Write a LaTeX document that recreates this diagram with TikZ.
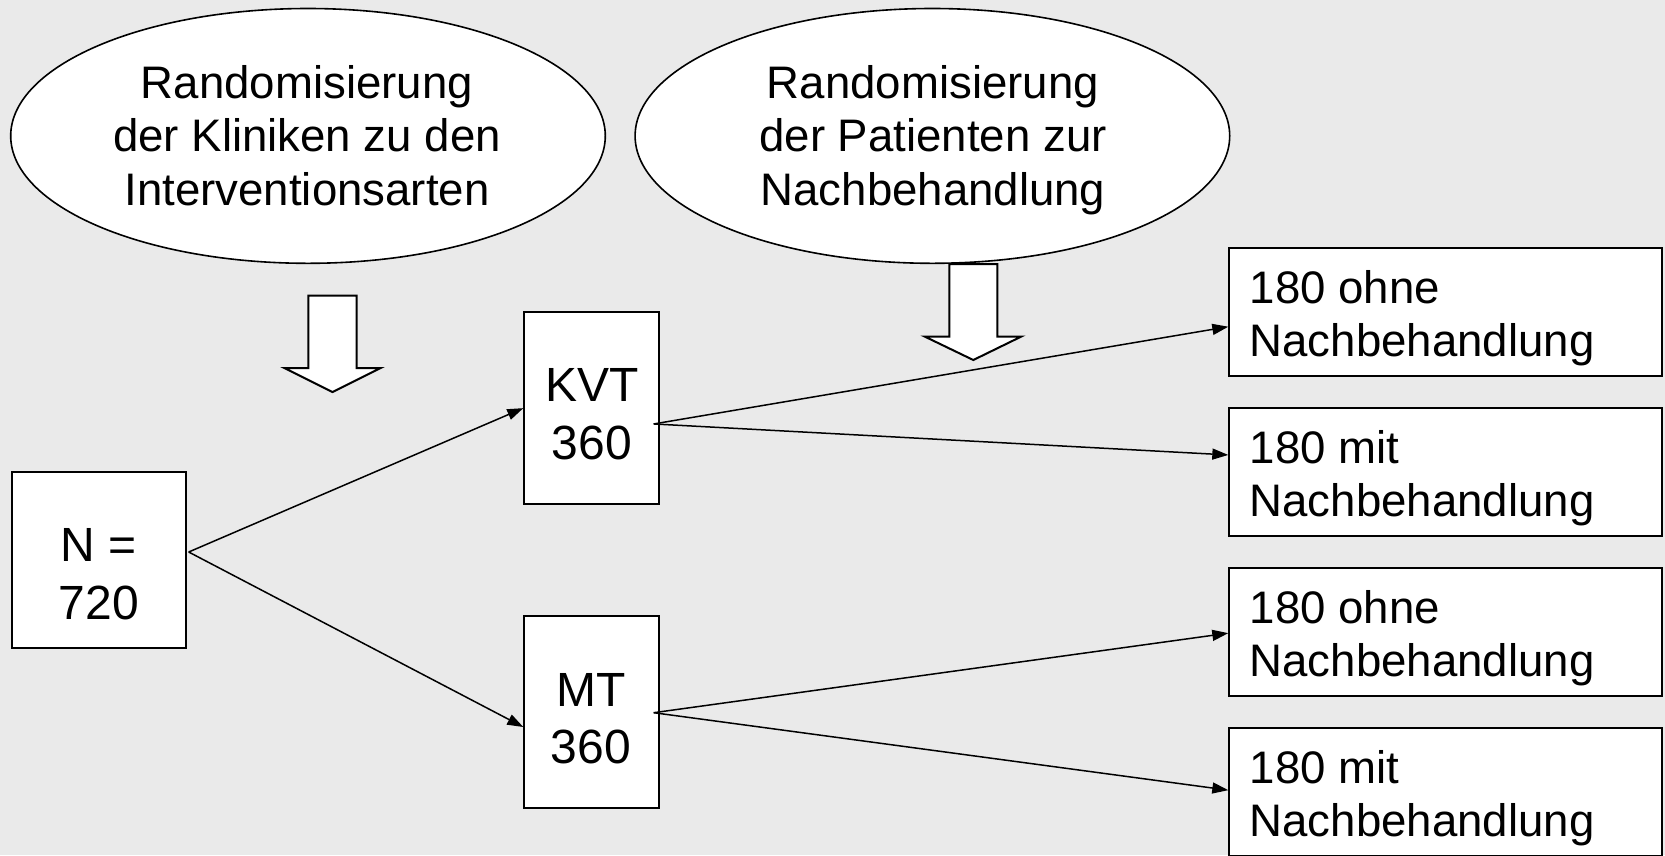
\documentclass[tikz,border=0pt]{standalone}
\usepackage{fontspec}
\setmainfont{Liberation Sans}
\usetikzlibrary{arrows.meta,shapes.geometric,calc}
\definecolor{bg}{HTML}{EAEAEA}
\newcommand\flstrut{\rule{0pt}{40pt}}
\begin{document}
\begin{tikzpicture}[x=1pt,y=-1pt,
  shapebox/.style={draw=black, line width=2pt, fill=white, inner sep=0pt},
  oval/.style={ellipse, draw=black, line width=1.6pt, fill=white, minimum width=594.6pt, minimum height=254.8pt, inner sep=0pt},
  conn/.style={line width=1.5pt, -{Triangle[length=16pt,width=11pt]}},
  blockarrow/.style={draw=black, line width=2pt, fill=white, line join=miter},
  bigtxt/.style={font=\fontsize{45.6}{53.3}\selectfont, inner sep=0pt},
  midtxt/.style={font=\fontsize{48}{57.3}\selectfont, inner sep=0pt, anchor=north, align=center},
]
\fill[bg] (0,0) rectangle (1665,855);
\useasboundingbox (0,0) rectangle (1665,855);

% ellipses
\node[oval] (E1) at (308,135.9) {};
\node[oval] (E2) at (932.4,135.9) {};
\node[bigtxt, anchor=north, align=center] (T1) at (307,58.3) {\flstrut Randomisierung\\der Kliniken zu den\\Interventionsarten};
\node[bigtxt, anchor=north, align=center] (T2) at (933,58.3) {\flstrut Randomisierung\\der Patienten zur\\Nachbehandlung};

% block arrows
\draw[blockarrow] (308.3,295.7) -- (356.7,295.7) -- (356.7,368) -- (380.7,368) -- (332.5,392) -- (284.3,368) -- (308.3,368) -- cycle;
\draw[blockarrow] (949.3,264) -- (997.3,264) -- (997.3,336.7) -- (1021,336.7) -- (973.3,360) -- (925,336.7) -- (949.3,336.7) -- cycle;

% boxes
\node[shapebox, minimum width=173.4pt, minimum height=176pt] (N) at (99,560.3) {};
\node[shapebox, minimum width=135pt, minimum height=191.7pt] (KVT) at (591.8,408.15) {};
\node[shapebox, minimum width=135pt, minimum height=192.6pt] (MT) at (591.8,712) {};
\node[shapebox, minimum width=432.4pt, minimum height=127.5pt] (B1) at (1445.5,312) {};
\node[shapebox, minimum width=432.4pt, minimum height=127.5pt] (B2) at (1445.5,472.15) {};
\node[shapebox, minimum width=432.4pt, minimum height=127.5pt] (B3) at (1445.5,632.15) {};
\node[shapebox, minimum width=432.4pt, minimum height=127.5pt] (B4) at (1445.5,792.15) {};

% box texts
\node[midtxt] (TN) at (99,521.7) {\flstrut N =\\720};
\node[midtxt] (TK) at (592,361.7) {\flstrut KVT\\360};
\node[midtxt] (TM) at (591,666) {\flstrut MT\\360};
\node[bigtxt, anchor=north west, align=left] (TB1) at (1249.5,263.3) {\flstrut 180 ohne\\Nachbehandlung};
\node[bigtxt, anchor=north west, align=left] (TB2) at (1249.5,423.3) {\flstrut 180 mit\\Nachbehandlung};
\node[bigtxt, anchor=north west, align=left] (TB3) at (1249.5,583.3) {\flstrut 180 ohne\\Nachbehandlung};
\node[bigtxt, anchor=north west, align=left] (TB4) at (1249.5,743.3) {\flstrut 180 mit\\Nachbehandlung};

% connectors
\draw[conn] ($(N.east)+(2,-8.3)$) -- (KVT.west);
\draw[conn] ($(N.east)+(2,-8.3)$) -- ($(MT.west)+(0,15)$);
\draw[conn] ($(KVT.east)+(-6.6,15.8)$) -- ($(B1.west)+(0,14.7)$);
\draw[conn] ($(KVT.east)+(-6.6,15.8)$) -- ($(B2.west)+(0,-17.2)$);
\draw[conn] ($(MT.east)+(-6.6,0.7)$) -- ($(B3.west)+(0,1)$);
\draw[conn] ($(MT.east)+(-6.6,0.7)$) -- ($(B4.west)+(0,-2)$);
\end{tikzpicture}
\end{document}
